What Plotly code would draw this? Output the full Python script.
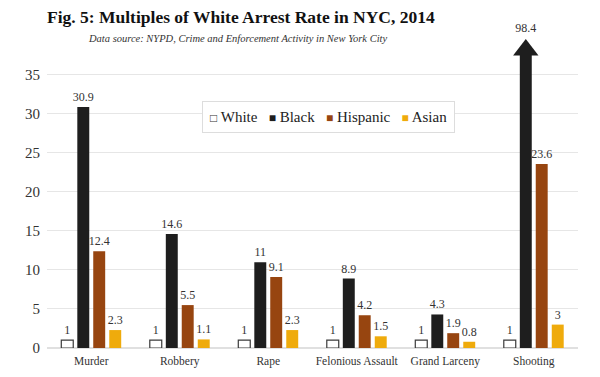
import plotly.graph_objects as go

categories = ["Murder", "Robbery", "Rape", "Felonious Assault", "Grand Larceny", "Shooting"]
white = [1, 1, 1, 1, 1, 1]
black = [30.9, 14.6, 11, 8.9, 4.3, 98.4]
hispanic = [12.4, 5.5, 9.1, 4.2, 1.9, 23.6]
asian = [2.3, 1.1, 2.3, 1.5, 0.8, 3]
y_ticks = [0, 5, 10, 15, 20, 25, 30, 35]

AXIS_TOP = 38.2  # values above this are drawn as a clipped bar with an arrow head
FONT = "Liberation Serif"
BAR_W = 0.135
CENTERS = [-0.271, -0.09, 0.09, 0.271]  # bar centre offsets within a category

xpos = list(range(len(categories)))


def labels(vals):
    return [("" if v > AXIS_TOP else f"{v:g}") for v in vals]


fig = go.Figure()
series = [
    ("White", white, "#ffffff", "#3a3a3a"),
    ("Black", black, "#1e1e1e", "#1e1e1e"),
    ("Hispanic", hispanic, "#974510", "#974510"),
    ("Asian", asian, "#efab0c", "#efab0c"),
]
for (name, vals, fill, line), c in zip(series, CENTERS):
    fig.add_trace(go.Bar(
        name=name, x=xpos, y=vals, width=BAR_W, offset=c - BAR_W / 2,
        marker=dict(color=fill, line=dict(color=line, width=1.2 if name == "White" else 0)),
        text=labels(vals), textposition="outside", cliponaxis=False, constraintext="none",
        textfont=dict(family=FONT, size=12, color="#333333"),
        showlegend=False, hoverinfo="skip",
    ))

# arrow head for bars exceeding the axis (sits on the top edge of the plot)
over_x = [i + CENTERS[1] for i, v in zip(xpos, black) if v > AXIS_TOP]
over_v = [v for v in black if v > AXIS_TOP]
fig.add_trace(go.Scatter(
    x=over_x, y=[AXIS_TOP] * len(over_x),
    mode="markers+text", marker=dict(symbol="triangle-up", size=22, color="#1e1e1e", line=dict(width=0)),
    text=[f"{v:g}" for v in over_v], textposition="top center",
    textfont=dict(family=FONT, size=12, color="#333333"),
    cliponaxis=False, showlegend=False, hoverinfo="skip",
))

# legend drawn as a single boxed text
legend_items = [("□", "#333333", "White"), ("■", "#1e1e1e", "Black"),
                ("■", "#974510", "Hispanic"), ("■", "#efab0c", "Asian")]
legend_text = "   ".join(
    f"<span style='color:{col};font-size:12px'>{sym}</span> {name}" for sym, col, name in legend_items
)

fig.update_layout(
    width=600, height=377,
    margin=dict(l=47, r=22, t=50, b=29),
    plot_bgcolor="white", paper_bgcolor="white",
    font=dict(family=FONT, color="#333333"),
    xaxis=dict(range=[-0.5, len(categories) - 0.5], tickvals=xpos, ticktext=categories,
               showgrid=False, showline=False, zeroline=False, ticks="", ticklabelstandoff=4,
               automargin=False,
               tickfont=dict(family=FONT, size=11.5, color="#333333")),
    yaxis=dict(range=[0, AXIS_TOP], tickvals=y_ticks, showgrid=True,
               gridcolor="#e6e6e6", gridwidth=1, zeroline=True, zerolinecolor="#e0e0e0",
               showline=False, ticks="", ticklabelstandoff=6, automargin=False,
               tickfont=dict(family=FONT, size=15, color="#333333")),
    showlegend=False,
    annotations=[
        dict(text="<b>Fig. 5: Multiples of White Arrest Rate in NYC, 2014</b>",
             xref="paper", yref="paper", x=(241 - 47) / 531, y=1 + (50 - 17) / 298,
             xanchor="center", yanchor="middle", showarrow=False,
             font=dict(family=FONT, size=17.5, color="#111111")),
        dict(text="<i>Data source: NYPD, Crime and Enforcement Activity in New York City</i>",
             xref="paper", yref="paper", x=(237 - 47) / 531, y=1 + (50 - 38) / 298,
             xanchor="center", yanchor="middle", showarrow=False,
             font=dict(family=FONT, size=10.5, color="#333333")),
        dict(text=legend_text, xref="paper", yref="paper",
             x=(328 - 47) / 531, y=(348 - 117) / 298, xanchor="center", yanchor="middle",
             showarrow=False, bordercolor="#dddddd", borderwidth=1, borderpad=7, bgcolor="white",
             font=dict(family=FONT, size=15, color="#222222")),
    ],
)

fig.write_html("out.html", config={"displayModeBar": False},
               post_script="document.body.style.margin='0';")
